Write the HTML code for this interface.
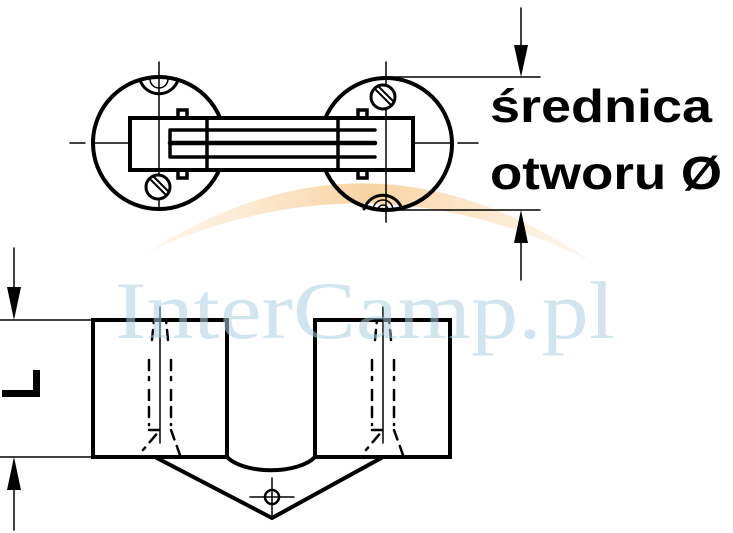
<!DOCTYPE html>
<html><head><style>body{margin:0;background:#fff}svg{display:block}</style></head><body>
<svg width="733" height="533" viewBox="0 0 733 533" xmlns="http://www.w3.org/2000/svg">
<defs><linearGradient id="g" x1="0" x2="1"><stop offset="0" stop-color="#fbe3c4" stop-opacity="0.3"/><stop offset="0.5" stop-color="#f8d3a0"/><stop offset="1" stop-color="#fbe3c4" stop-opacity="0.3"/></linearGradient></defs>
<path d="M148 252 Q370 110 592 262 Q370 150 148 252Z" fill="url(#g)"/>
<g fill="none" stroke="#000" stroke-linecap="round">
<circle cx="159" cy="143" r="66" stroke-width="4"/>
<circle cx="386" cy="144" r="66" stroke-width="4"/>
<rect x="130" y="118" width="283" height="52" fill="#fff" stroke-width="4"/>
<path d="M170 130H375M170 157H375M170 130V157M207 118V170M338 118V170M178 118V110H187V118M178 170V178H187V170M358 118V110H367V118M358 170V178H367V170" stroke-width="3.5"/>
<path d="M170 143H375" stroke-width="4.5"/>
<path d="M70 143H85M92 143H130M413 143H450M458 143H478M159 62V210M386 62V222" stroke-width="1.5"/>
<circle cx="158" cy="187" r="12" stroke-width="3" fill="#fff"/>
<path d="M151 180L165 194M154 177L168 191" stroke-width="2"/>
<circle cx="383" cy="97" r="12" stroke-width="3" fill="#fff"/>
<path d="M376 90L390 104M379 87L393 101" stroke-width="2"/>
<path d="M140 80A20 20 0 0 0 178 80" stroke-width="3"/>
<path d="M150 79A9 9 0 0 0 168 79" stroke-width="1.5"/>
<path d="M364 209A20 20 0 0 1 402 209" stroke-width="3"/>
<path d="M373 210A10 10 0 0 1 393 210M378 210A5 5 0 0 1 388 210" stroke-width="1.5"/>
<path d="M386 77H540M386 210H540M521 8V45M521 243V280" stroke-width="1.5"/>
<path d="M0 320H93M0 457H93M14 248V287M14 490V530" stroke-width="1.5"/>
<rect x="93" y="320" width="134" height="137" stroke-width="4"/>
<rect x="315" y="320" width="135" height="137" stroke-width="4"/>
<path d="M227 457A48 22 0 0 0 315 457" stroke-width="4"/>
<path d="M155 457L272 518L383 457" stroke-width="4"/>
<circle cx="272" cy="497" r="7" stroke-width="2.5"/>
<path d="M250 497H294M272 478V515" stroke-width="1.5"/>
<path d="M160 307V443M383 307V443" stroke-width="1.5"/>
<path d="M152 340L154 320M168 340L166 320M149 360V380M171 360V380M149 390V425M171 390V425M149 430H160L143 450M171 430L180 455M375 340L377 320M391 340L389 320M372 360V380M394 360V380M372 390V425M394 390V425M372 430H383L366 450M394 430L403 455" stroke-width="2.5" stroke-dasharray="10 7"/>
</g>
<g fill="#000">
<path d="M514 45H528L521 77Z"/><path d="M514 243H528L521 210Z"/>
<path d="M7 287H21L14 320Z"/><path d="M7 490H21L14 457Z"/>
<rect x="33" y="370" width="7" height="27"/><rect x="2" y="390" width="38" height="7"/>
</g>
<text x="115" y="338" font-family="Liberation Serif, serif" font-size="82" fill="#a9d0df" fill-opacity="0.55" textLength="500" lengthAdjust="spacingAndGlyphs">InterCamp.pl</text>
<text x="490" y="122" font-family="Liberation Sans, sans-serif" font-weight="bold" font-size="46" fill="#000" textLength="222" lengthAdjust="spacingAndGlyphs">średnica</text>
<text x="490" y="189" font-family="Liberation Sans, sans-serif" font-weight="bold" font-size="46" fill="#000" textLength="232" lengthAdjust="spacingAndGlyphs">otworu Ø</text>
</svg>
</body></html>
